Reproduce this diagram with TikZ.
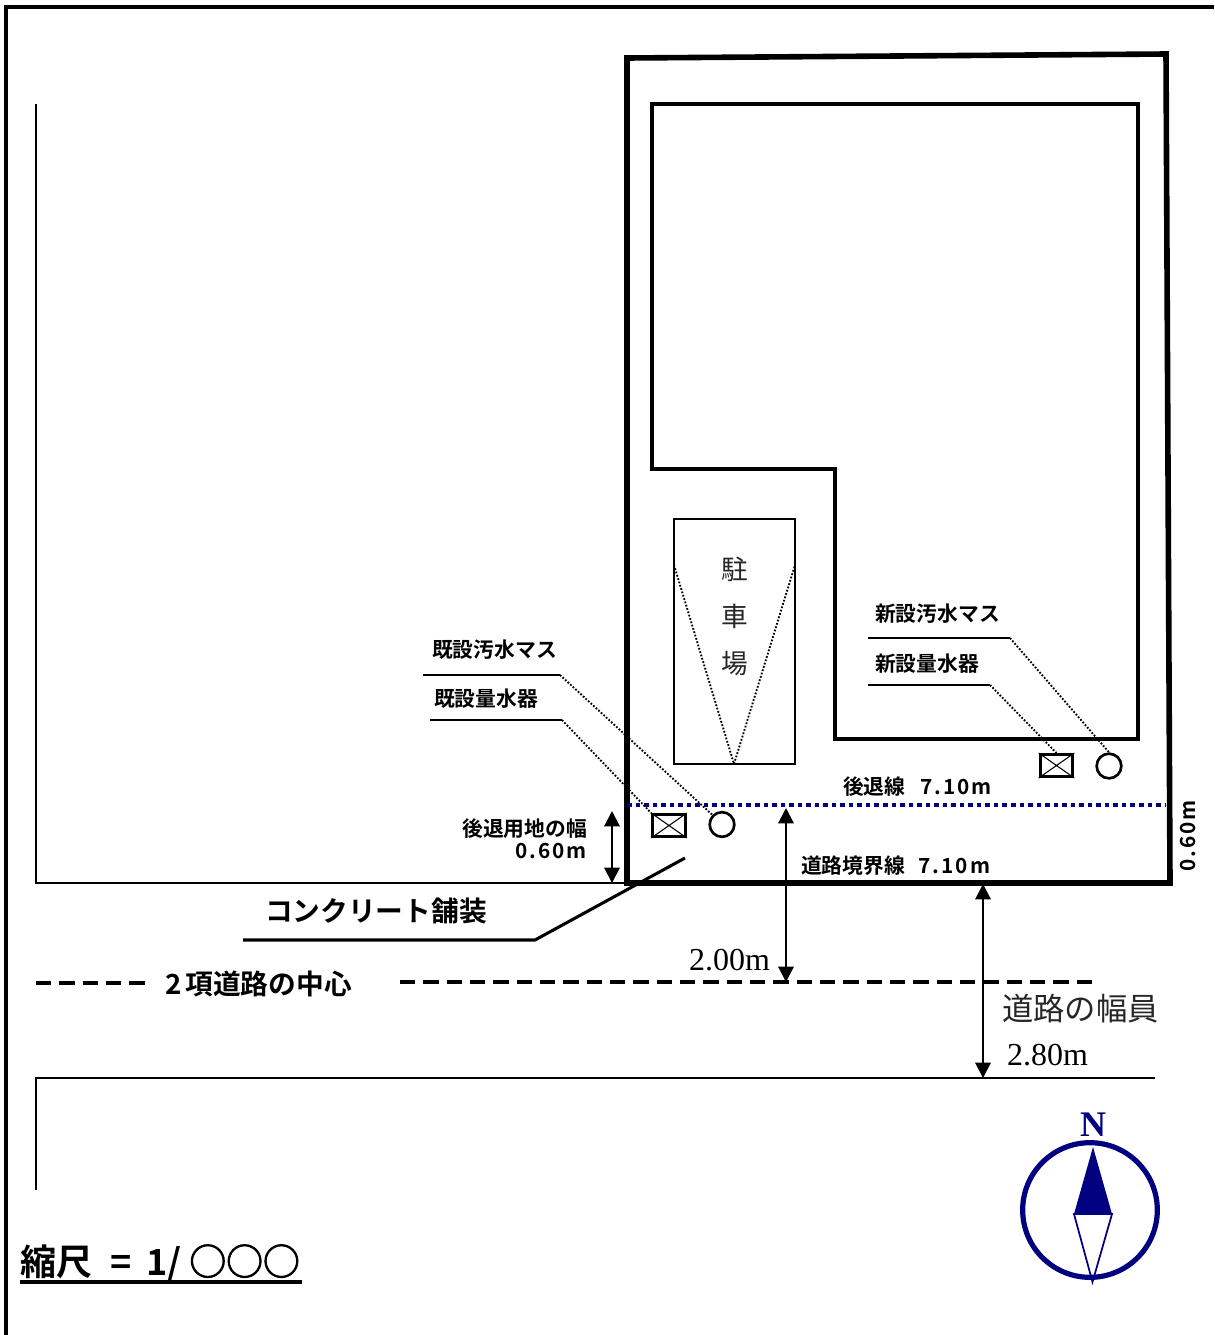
\documentclass[tikz,border=0pt]{standalone}
\usepackage{fontspec}
\setmainfont{Liberation Serif}
\newfontfamily\gothb{Noto Sans CJK JP Bold}
\newfontfamily\gothr{Noto Sans CJK JP}
\newfontfamily\latb[LetterSpace=10]{Noto Sans CJK JP Bold}
\newfontfamily\circf[FakeBold=2.5]{Noto Sans CJK JP}
\usetikzlibrary{arrows.meta}
\definecolor{navyb}{RGB}{0,0,128}
\tikzset{
 px/.style={x=0.75pt,y=-0.75pt},
 txt/.style={inner sep=0pt,outer sep=0pt},
 lab/.style={txt,font=\gothb\fontsize{15.6}{15.6}\selectfont},
 bigl/.style={txt,font=\gothb\fontsize{20.8}{20.8}\selectfont},
 thinl/.style={line width=1.4pt,line join=miter},
 medl/.style={line width=3pt,line join=miter},
 leader/.style={line width=1.3pt},
 dotl/.style={line width=1.4pt,dash pattern=on 1.3pt off 1.3pt},
 center line/.style={line width=2.6pt,dash pattern=on 11.5pt off 6pt},
 dimarrow/.style={line width=1.6pt,{Triangle[length=11.5pt,width=11.5pt]}-{Triangle[length=11.5pt,width=11.5pt]}},
 symbox/.style={draw,line width=2.2pt,minimum width=24.5pt,minimum height=16.5pt,inner sep=0pt},
 symcirc/.style={draw,circle,line width=2pt,minimum size=18.5pt,inner sep=0pt},
}
\newcommand{\sym}[1]{\draw[line width=.8pt] (#1.north west)--(#1.south east) (#1.north east)--(#1.south west);}
\begin{document}
\begin{tikzpicture}[px]
\useasboundingbox (0,0) rectangle (1214,1335);
% frame
\draw[line width=3pt] (6,1335) -- (6,7) -- (1214,7);
% left / road boundaries
\draw[thinl] (36,104) -- (36,883) -- (627,883);
\draw[thinl] (36,1190) -- (36,1078) -- (1155,1078);
% site and building
\draw[line width=4.2pt,line join=miter] (627,58) -- (1166,54) -- (1170,883) -- (627,883) -- cycle;
\draw[medl] (652,104) -- (1138,104) -- (1138,739) -- (835,739) -- (835,469) -- (652,469) -- cycle;
% parking
\draw[line width=1.8pt] (674,519) rectangle (795,764);
\draw[dotl] (674,565) -- (734,764) -- (795,565);
\node[txt,font=\gothr\fontsize{20}{20}\selectfont,text=black!85] (pk1) at (735,569) {駐};
\node[txt,font=\gothr\fontsize{20}{20}\selectfont,text=black!85] (pk2) at (735,616) {車};
\node[txt,font=\gothr\fontsize{20}{20}\selectfont,text=black!85] (pk3) at (735,664) {場};
% setback line
\draw[navyb,line width=3.4pt,dash pattern=on 3.4pt off 3pt] (627,805) -- (1166,805);
% symbols
\node[symbox] (m1) at (669,825.5) {}; \sym{m1}
\node[symcirc] (c1) at (722,824.5) {};
\node[symbox] (m2) at (1056.5,765.5) {}; \sym{m2}
\node[symcirc] (c2) at (1109,766) {};
% leaders
\coordinate (a1) at (423,675); \coordinate (a2) at (560,675);
\coordinate (b1) at (430,720); \coordinate (b2) at (562,720);
\coordinate (d1) at (868,638); \coordinate (d2) at (1010,638);
\coordinate (e1) at (868,685); \coordinate (e2) at (990,685);
\draw[leader] (a1) -- (a2); \draw[dotl] (a2) -- (c1.north west);
\draw[leader] (b1) -- (b2); \draw[dotl] (b2) -- (m1.north west);
\draw[leader] (d1) -- (d2); \draw[dotl] (d2) -- (c2.north);
\draw[leader] (e1) -- (e2); \draw[dotl] (e2) -- (m2.north);
% labels
\node[lab,anchor=west] (t1) at (432,650) {既設汚水マス};
\node[lab,anchor=west] (t2) at (434,699) {既設量水器};
\node[lab,anchor=west] (t3) at (875,614) {新設汚水マス};
\node[lab,anchor=west] (t4) at (875,664) {新設量水器};
\node[lab,anchor=west] (t5) at (843,787) {後退線\hspace{11pt}{\latb 7.10m}};
\node[lab,anchor=west] (t6) at (801,866) {道路境界線\hspace{10pt}{\latb 7.10m}};
\node[lab,anchor=east] (t7) at (587,829) {後退用地の幅};
\node[lab,anchor=east] (t8) at (587,851) {\latb 0.60m};
\node[lab,rotate=90] (t9) at (1188,836) {\latb 0.60m};
% dimension arrows
\coordinate (p1) at (612,811); \coordinate (p2) at (612,883);
\coordinate (q1) at (786,808); \coordinate (q2) at (786,982);
\coordinate (r1) at (983,884); \coordinate (r2) at (983,1078);
\draw[dimarrow] (p1) -- (p2);
\draw[dimarrow] (q1) -- (q2);
\draw[dimarrow] (r1) -- (r2);
\node[txt,font=\fontsize{24}{24}\selectfont,anchor=east] (u1) at (770,960) {2.00m};
\node[txt,font=\gothr\fontsize{23.5}{23.5}\selectfont,anchor=west,text=black!85] (u2) at (1002,1009) {道路の幅員};
\node[txt,font=\fontsize{24}{24}\selectfont,anchor=west] (u3) at (1007,1055) {2.80m};
% concrete
\coordinate (k1) at (243,940); \coordinate (k2) at (535,940); \coordinate (k3) at (685,858);
\draw[line width=2.3pt,line join=miter] (k1) -- (k2) -- (k3);
\node[bigl,anchor=west] (k) at (265,911) {コンクリート舗装};
% centre line
\coordinate (l1) at (36,983); \coordinate (l2) at (146,983);
\coordinate (l3) at (400,982); \coordinate (l4) at (1092,982);
\draw[center line] (l1) -- (l2);
\draw[center line] (l3) -- (l4);
\node[bigl,anchor=west] (c) at (165,984) {2\hspace{3pt}項道路の中心};
% scale
\node[txt,font=\gothb\fontsize{27}{27}\selectfont,anchor=west] (s) at (21,1263) {縮尺\hspace{13pt}=\hspace{11pt}1/\hspace{6pt}{\circf\fontsize{27.6}{27.6}\selectfont ○○○}};
\coordinate (s1) at (20,1282); \coordinate (s2) at (302,1282);
\draw[line width=3pt] (s1) -- (s2);
% compass
\node[draw=navyb,circle,line width=3.9pt,minimum size=101pt,inner sep=0pt] (cmp) at (1090,1210) {};
\coordinate (ntip) at (1093,1147); \coordinate (wl) at (1074,1214); \coordinate (er) at (1112,1214); \coordinate (stip) at (1092.5,1282);
\fill[navyb] (ntip) -- (wl) -- (er) -- cycle;
\draw[navyb,line width=1.3pt,line join=miter] (wl) -- (stip) -- (er) -- cycle;
\node[txt,text=navyb,font=\bfseries\fontsize{27}{27}\selectfont] (nn) at (1093,1125) {N};
\end{tikzpicture}
\end{document}
